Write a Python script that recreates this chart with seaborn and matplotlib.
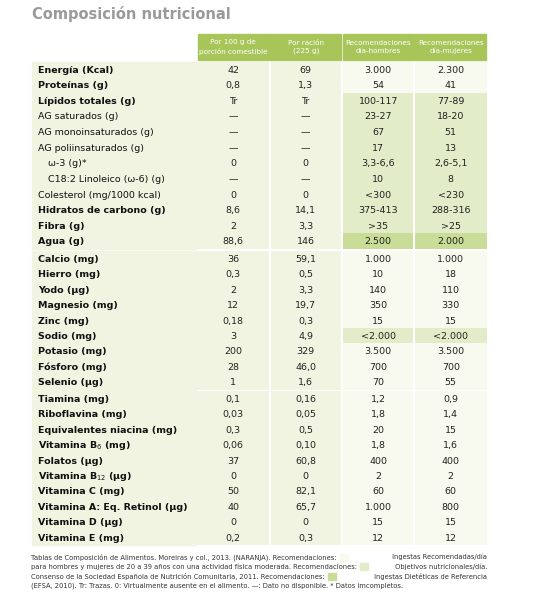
import numpy as np
import matplotlib.pyplot as plt
import seaborn as sns
from matplotlib.colors import ListedColormap
from matplotlib.patches import Rectangle

sns.set_theme(style="white")
plt.rcParams['font.family'] = ['DejaVu Sans']

# ---- data ----
headers = ["Por 100 g de\nporción comestible", "Por ración\n(225 g)",
           "Recomendaciones\ndía-hombres", "Recomendaciones\ndía-mujeres"]

labels_1 = ["Energía (Kcal)", "Proteínas (g)", "Lípidos totales (g)", "AG saturados (g)",
            "AG monoinsaturados (g)", "AG poliinsaturados (g)", "ω-3 (g)*",
            "C18:2 Linoleico (ω-6) (g)", "Colesterol (mg/1000 kcal)",
            "Hidratos de carbono (g)", "Fibra (g)", "Agua (g)"]
bold_1 = [1, 1, 1, 0, 0, 0, 0, 0, 0, 1, 1, 1]
indent_1 = [0, 0, 0, 0, 0, 0, 1, 1, 0, 0, 0, 0]
per100_1 = ["42", "0,8", "Tr", "—", "—", "—", "0", "—", "0", "8,6", "2", "88,6"]
racion_1 = ["69", "1,3", "Tr", "—", "—", "—", "0", "—", "0", "14,1", "3,3", "146"]
hombres_1 = ["3.000", "54", "100-117", "23-27", "67", "17", "3,3-6,6", "10", "<300",
             "375-413", ">35", "2.500"]
mujeres_1 = ["2.300", "41", "77-89", "18-20", "51", "13", "2,6-5,1", "8", "<230",
             "288-316", ">25", "2.000"]
# 1 = ingestas recomendadas, 2 = objetivos nutricionales, 3 = EFSA
rec_type_1 = [1, 1, 2, 2, 2, 2, 2, 2, 2, 2, 2, 3]

labels_2 = ["Calcio (mg)", "Hierro (mg)", "Yodo (µg)", "Magnesio (mg)", "Zinc (mg)",
            "Sodio (mg)", "Potasio (mg)", "Fósforo (mg)", "Selenio (µg)"]
per100_2 = ["36", "0,3", "2", "12", "0,18", "3", "200", "28", "1"]
racion_2 = ["59,1", "0,5", "3,3", "19,7", "0,3", "4,9", "329", "46,0", "1,6"]
hombres_2 = ["1.000", "10", "140", "350", "15", "<2.000", "3.500", "700", "70"]
mujeres_2 = ["1.000", "18", "110", "330", "15", "<2.000", "3.500", "700", "55"]
rec_type_2 = [1, 1, 1, 1, 1, 2, 1, 1, 1]

labels_3 = ["Tiamina (mg)", "Riboflavina (mg)", "Equivalentes niacina (mg)",
            "Vitamina B$_6$ (mg)", "Folatos (µg)", "Vitamina B$_{12}$ (µg)",
            "Vitamina C (mg)", "Vitamina A: Eq. Retinol (µg)", "Vitamina D (µg)",
            "Vitamina E (mg)"]
per100_3 = ["0,1", "0,03", "0,3", "0,06", "37", "0", "50", "40", "0", "0,2"]
racion_3 = ["0,16", "0,05", "0,5", "0,10", "60,8", "0", "82,1", "65,7", "0", "0,3"]
hombres_3 = ["1,2", "1,8", "20", "1,8", "400", "2", "60", "1.000", "15", "12"]
mujeres_3 = ["0,9", "1,4", "15", "1,6", "400", "2", "60", "800", "15", "12"]
rec_type_3 = [1] * 10

# ---- style ----
W, H = 535, 616
c_food = "#f0f4e1"
c_ri = "#f8f9ef"
c_obj = "#e3ecc8"
c_efsa = "#c9dc98"
c_head = "#a8c55a"
cmap = ListedColormap([c_food, c_ri, c_obj, c_efsa])

fig = plt.figure(figsize=(W / 100, H / 100), dpi=100)
x_lab, x_val, x_end = 32, 197, 487


def fx(x):
    return x / W


def fy(y):
    return 1 - y / H


fig.text(fx(32), fy(14), "Composición nutricional", fontsize=10.5, color="#9a9a9a",
         fontweight="bold", va="center")

# header
for j, h in enumerate(headers):
    x0 = x_val + j * (x_end - x_val) / 4
    w = (x_end - x_val) / 4
    fig.patches.append(Rectangle((fx(x0 + 0.7), fy(60)), (w - 1.4) / W, 26 / H,
                                 transform=fig.transFigure, color=c_head, zorder=0))
    fig.text(fx(x0 + w / 2), fy(47), h, fontsize=5.2, color="white", ha="center",
             va="center", linespacing=1.35)

sections = [
    (labels_1, bold_1, indent_1, per100_1, racion_1, hombres_1, mujeres_1, rec_type_1, 61.5, 249),
    (labels_2, [1] * 9, [0] * 9, per100_2, racion_2, hombres_2, mujeres_2, rec_type_2, 251, 389.5),
    (labels_3, [1] * 10, [0] * 10, per100_3, racion_3, hombres_3, mujeres_3, rec_type_3, 391, 545),
]

for labels, bold, indent, p100, rac, hom, muj, rtype, top, bot in sections:
    n = len(labels)
    # label column background
    fig.patches.append(Rectangle((fx(x_lab), fy(bot)), (x_val - x_lab - 1) / W, (bot - top) / H,
                                 transform=fig.transFigure, color=c_food, zorder=0))
    ax = fig.add_axes([fx(x_val), fy(bot), (x_end - x_val) / W, (bot - top) / H])
    codes = np.array([[0, 0, r, r] for r in rtype])
    sns.heatmap(codes, ax=ax, cmap=cmap, vmin=-0.5, vmax=3.5, cbar=False,
                xticklabels=False, yticklabels=False)
    for k in range(1, 4):
        ax.axvline(k, color="white", lw=1.5)
    for i in range(n):
        for j, col in enumerate([p100, rac, hom, muj]):
            ax.text(j + 0.5, i + 0.55, col[i], ha="center", va="center",
                    fontsize=6.8, color="#222222")
        yc = top + (i + 0.55) * (bot - top) / n
        fig.text(fx(38 + 10 * indent[i]), fy(yc), labels[i], fontsize=6.8, color="#111111",
                 fontweight="bold" if bold[i] else "normal", va="center")

# footnote: text pieces with coloured legend squares between them
foot = [
    ("Tablas de Composición de Alimentos. Moreiras y col., 2013. (NARANJA). Recomendaciones: ",
     c_ri, " Ingestas Recomendadas/día"),
    ("para hombres y mujeres de 20 a 39 años con una actividad física moderada. Recomendaciones: ",
     c_obj, " Objetivos nutricionales/día."),
    ("Consenso de la Sociedad Española de Nutrición Comunitaria, 2011. Recomendaciones: ",
     c_efsa, " Ingestas Dietéticas de Referencia"),
    ("(EFSA, 2010). Tr: Trazas. 0: Virtualmente ausente en el alimento. —: Dato no disponible. * Datos imcompletos.",
     None, ""),
]
foot_y = [557, 566.5, 576, 585.5]
renderer = fig.canvas.get_renderer()
for (t1, c, t2), y in zip(foot, foot_y):
    txt = fig.text(fx(31), fy(y), t1, fontsize=4.9, color="#333333", va="center")
    if c is None:
        continue
    x1 = txt.get_window_extent(renderer).x1
    fig.patches.append(Rectangle((fx(x1 + 1), fy(y + 3.5)), 8 / W, 7 / H,
                                 transform=fig.transFigure, color=c, zorder=0))
    fig.text(fx(487), fy(y), t2, fontsize=4.9, color="#333333", va="center", ha="right")

fig.savefig("out.png", dpi=100)
